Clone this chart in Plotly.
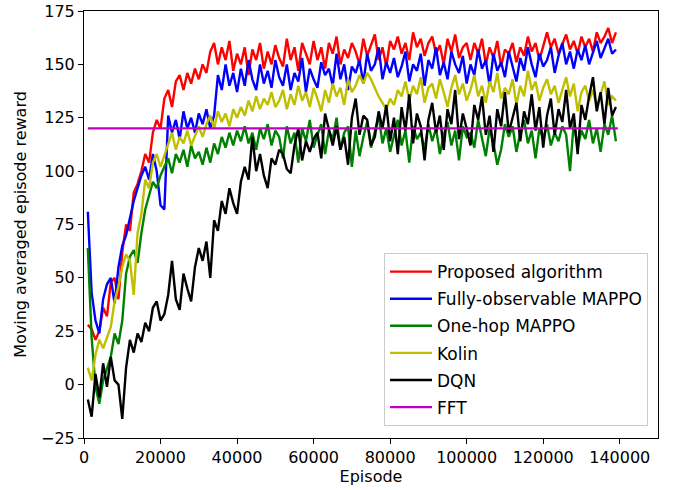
import plotly.graph_objects as go

# Episodes (x grid of the moving average)
episodes = list(range(1000, 140000, 1000))

proposed = [
    28, 26, 21, 25, 36, 32, 48, 50, 40, 62,
    75, 72, 90, 94, 100, 108, 104, 118, 124, 120,
    134, 138, 130, 142, 145, 138, 146, 141, 148, 143,
    150, 146, 156, 160, 150, 158, 152, 161, 147, 155,
    150, 158, 145, 157, 152, 160, 148, 156, 150, 159,
    153, 149, 162, 152, 158, 147, 160, 155, 150, 161,
    152, 158, 148, 160, 155, 163, 150, 157, 153, 160,
    156, 150, 162, 154, 159, 164, 152, 158, 149, 161,
    157, 163, 155, 160, 152, 165, 158, 162, 154, 160,
    163, 155, 159, 150, 162, 156, 164, 153, 158, 160,
    152, 160, 155, 162, 150, 158, 153, 161, 149, 157,
    155, 160, 151, 158, 154, 163, 156, 160, 152, 158,
    165, 158, 162, 155, 160, 164, 157, 161, 155, 163,
    158, 162, 156, 165, 160, 163, 167, 160, 165,
]

full_mappo = [
    81, 43, 30, 24, 40, 47, 50, 38, 55, 65,
    70, 78, 86, 92, 98, 102, 96, 108, 100, 84,
    82, 126, 118, 124, 115, 128, 120, 125, 118, 127,
    122, 129, 120, 126, 145, 138, 150, 140, 146, 137,
    148, 140, 152, 143, 138, 150, 141, 147, 139, 152,
    144, 140, 150, 138, 146, 142, 153, 137, 148, 143,
    139, 151, 145, 148, 140, 155, 143, 150, 138, 149,
    146, 152, 141, 155, 147, 150, 158, 143, 151, 146,
    153, 144, 149, 156, 142, 150, 147, 155, 140, 152,
    148, 158, 145, 151, 143, 156, 150, 146, 154, 141,
    150, 145, 157, 148, 152, 140, 155, 147, 151, 144,
    156, 149, 142, 153, 147, 158, 150, 144, 155, 149,
    152, 158, 146, 154, 160, 150, 156, 148, 157, 152,
    159, 150, 155, 161, 153, 158, 162, 155, 157,
]

onehop_mappo = [
    64, 22, -1, -9, 2, 8, 13, 24, 19, 30,
    52, 60, 63, 57, 71, 82, 88, 95, 92, 98,
    102, 106, 99, 108, 104, 110, 102, 112, 106, 109,
    103, 111, 104, 113, 108, 116, 111, 118, 112, 119,
    114, 121, 113, 118, 110, 120, 115, 122, 112, 119,
    116, 106, 121, 113, 118, 104, 120, 114, 124, 111,
    117, 122, 108, 119, 115, 125, 110, 118, 121, 102,
    119, 107, 116, 123, 111, 118, 126, 113, 120, 109,
    117, 124, 112, 119, 104, 121, 115, 118, 110, 122,
    114, 120, 108, 117, 123, 112, 119, 105, 121, 116,
    118, 111, 124, 115, 107, 120, 113, 103, 110, 122,
    116, 121, 109, 118, 124, 113, 119, 106, 120, 115,
    122, 112, 118, 114, 121, 117, 100, 123, 111, 119,
    115, 124, 113, 120, 109, 122, 117, 126, 114,
]

kolin = [
    8, 2, 14, 21, 17, 22, 27, 39, 46, 55,
    61, 58, 42, 71, 80, 96, 92, 104, 108, 102,
    107, 112, 118, 110, 116, 113, 119, 112, 117, 121,
    116, 122, 126, 120, 128, 123, 127, 121, 129, 125,
    130, 126, 133, 128, 135, 129, 134, 131, 137, 130,
    133, 138, 129, 136, 131, 140, 133, 137, 130, 139,
    134, 128, 138, 132, 141, 135, 139, 131, 143, 137,
    140, 145, 141, 146, 143, 139, 135, 132, 129, 134,
    131, 138, 135, 142, 133, 140, 136, 144, 132, 139,
    141, 134, 143, 137, 130, 139, 145, 136, 141, 133,
    138, 145, 135, 140, 132, 142, 137, 146, 134, 139,
    136, 143, 131, 140, 135, 147, 138, 142, 133, 139,
    143, 136, 140, 132, 138, 144, 135, 141, 128, 137,
    140, 133, 138, 130, 136, 142, 131, 135, 133,
]

dqn = [
    -7, -15, 5, -6, 10, -1, 13, 2, 0, -16,
    8, 21, 15, 24, 20, 29, 25, 36, 39, 30,
    33, 42, 58, 40, 35, 52, 45, 39, 55, 64,
    58, 67, 50, 77, 72, 86, 80, 92, 85, 80,
    95, 102, 96, 116, 100, 108, 98, 92, 106, 103,
    110, 108, 101, 99, 112, 120, 105, 114, 109, 115,
    118, 106, 127, 119, 112, 121, 110, 116, 103, 125,
    134, 117, 126, 124, 112, 116, 128, 120, 131, 114,
    125, 108, 130, 119, 136, 113, 127, 121, 105, 124,
    132, 118, 126, 110, 129, 122, 138, 115, 127, 120,
    112, 131, 124, 135, 117, 126, 109, 129, 121, 137,
    118, 125, 132, 114, 128, 122, 136, 119, 130, 111,
    126, 134, 117, 129, 123, 138, 120, 127, 108, 131,
    124, 135, 144, 128, 137, 122, 139, 126, 130,
]

fft_episodes = [1000, 139500]
fft_values = [120, 120]

names = ["Proposed algorithm", "Fully-observable MAPPO", "One-hop MAPPO",
         "Kolin", "DQN", "FFT"]
colors = ["#ff0000", "#0000ff", "#008000", "#bfbf00", "#000000", "#bf00bf"]

xtick_vals = [0, 20000, 40000, 60000, 80000, 100000, 120000, 140000]
ytick_vals = [-25, 0, 25, 50, 75, 100, 125, 150, 175]

series = [
    (episodes, proposed),
    (episodes, full_mappo),
    (episodes, onehop_mappo),
    (episodes, kolin),
    (episodes, dqn),
    (fft_episodes, fft_values),
]

fig = go.Figure()
for i, ((xs, ys), name, col) in enumerate(zip(series, names, colors)):
    fig.add_trace(go.Scatter(
        x=xs, y=ys, mode="lines", name=name,
        line=dict(color=col, width=2.4),
        legendgroup=f"g{i}",
    ))

font_family = "DejaVu Sans"
FS = 16
fig.update_layout(
    width=675, height=490,
    margin=dict(l=84, r=17, t=11, b=52),
    paper_bgcolor="white", plot_bgcolor="white",
    font=dict(family=font_family, size=FS, color="#000000"),
    showlegend=True,
    legend=dict(
        x=0.9826, y=0.028, xanchor="right", yanchor="bottom",
        bgcolor="white", bordercolor="#cccccc", borderwidth=1,
        font=dict(size=17, family=font_family, color="#000000"),
        traceorder="grouped", tracegroupgap=2, itemwidth=42,
    ),
)
fig.update_xaxes(
    range=[0, 150000], tickvals=xtick_vals,
    ticktext=[str(v) for v in xtick_vals],
    showgrid=False, zeroline=False, automargin=False,
    showline=True, mirror=True, linecolor="#000000", linewidth=1,
    ticks="outside", ticklen=5, tickcolor="#000000",
    tickfont=dict(size=FS), ticklabeloverflow="allow",
    title=dict(text="Episode", font=dict(size=FS), standoff=2),
)
fig.update_yaxes(
    range=[-25, 175], tickvals=ytick_vals,
    ticktext=[str(v).replace("-", "\u2212") for v in ytick_vals],
    showgrid=False, zeroline=False, automargin=False,
    showline=True, mirror=True, linecolor="#000000", linewidth=1,
    ticks="outside", ticklen=5, tickcolor="#000000",
    tickfont=dict(size=FS), ticklabeloverflow="allow",
    title=dict(text="Moving averaged episode reward", font=dict(size=FS), standoff=10),
)

fig.write_html(
    "out.html",
    config={"displayModeBar": False},
    post_script="document.body.style.margin='0px';",
)
